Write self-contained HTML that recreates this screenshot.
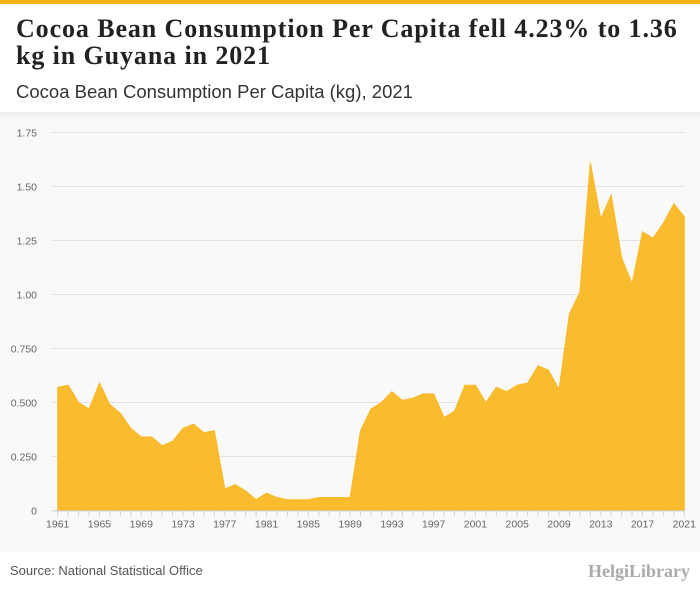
<!DOCTYPE html>
<html><head><meta charset="utf-8"><style>
body{margin:0;width:700px;height:596px;background:#fff;font-family:"Liberation Sans",sans-serif;overflow:hidden;position:relative}
.topbar{position:absolute;left:0;top:0;width:700px;height:4px;background:#f5b21a}
h1{position:absolute;left:16px;top:15px;margin:0;font:bold 26px/27px "Liberation Serif",serif;letter-spacing:0.9px;color:#222;width:690px;white-space:nowrap}
.sub{position:absolute;left:16px;top:81px;font-size:18.5px;color:#333}
.src{position:absolute;left:10px;top:563px;font-size:13px;color:#555}
.logo{position:absolute;right:10px;top:561px;font:bold 18px "Liberation Serif",serif;color:#aaa}
</style></head><body>
<div class="topbar"></div>
<h1>Cocoa Bean Consumption Per Capita fell 4.23% to 1.36<br>kg in Guyana in 2021</h1>
<div class="sub">Cocoa Bean Consumption Per Capita (kg), 2021</div>
<svg id="chart" width="700" height="440" style="position:absolute;left:0;top:112px">
<defs><linearGradient id="bg" x1="0" y1="0" x2="0" y2="1"><stop offset="0" stop-color="#ececec"/><stop offset="0.02" stop-color="#f9f9f9"/></linearGradient></defs>
<rect x="0" y="0" width="700" height="440" fill="url(#bg)"/>
<g id="g"></g>
</svg>
<div class="src">Source: National Statistical Office</div>
<div class="logo">HelgiLibrary</div>
<script>
const years=[];for(let y=1961;y<=2021;y++)years.push(y);
const values=[.57,.58,.50,.47,.59,.49,.45,.38,.34,.34,.30,.32,.38,.40,.36,.37,.10,.12,.09,.05,.08,.06,.05,.05,.05,.06,.06,.06,.06,.37,.47,.50,.55,.51,.52,.54,.54,.43,.46,.58,.58,.50,.57,.55,.58,.59,.67,.65,.56,.91,1.01,1.61,1.35,1.46,1.17,1.05,1.29,1.26,1.33,1.42,1.36];
const yTicks=[0,0.25,0.5,0.75,1,1.25,1.5,1.75];
const yTickLabels=["0","0.250","0.500","0.750","1.00","1.25","1.50","1.75"];
const xLabelYears=[1961,1965,1969,1973,1977,1981,1985,1989,1993,1997,2001,2005,2009,2013,2017,2021];
const NS="http://www.w3.org/2000/svg";const g=document.getElementById('g');
const x=v=>57.7+(v-1961)*(684.3-57.7)/60;
const y=v=>398.5-v*(398.5-20.5)/1.75;
function mk(t,a){const e=document.createElementNS(NS,t);for(const k in a)e.setAttribute(k,a[k]);g.appendChild(e);return e;}
yTicks.forEach((t,i)=>{
 const l=mk('line',{x1:52,x2:684,y1:y(t),y2:y(t),stroke:'#e2e2e2','stroke-width':1});
 
 
 const tx=mk('text',{x:37,y:y(t)+4,'text-anchor':'end','font-size':10.5,fill:'#666','font-family':'Liberation Sans, sans-serif'});
 tx.textContent=yTickLabels[i];
 
 
});
let d='M'+x(years[0])+','+y(0);
years.forEach((yr,i)=>{d+=' L'+x(yr)+','+y(values[i]);});
d+=' L'+x(years[years.length-1])+','+y(0)+' Z';
const area=mk('path',{d:d,fill:'#f9bc2f',stroke:'#f7b928','stroke-width':1});


const ax=mk('line',{x1:52,x2:684,y1:y(0)+.5,y2:y(0)+.5,stroke:'#c8d4e6','stroke-width':1});


years.forEach(yr=>{
 const t=mk('line',{x1:x(yr),x2:x(yr),y1:y(0),y2:y(0)+6,stroke:'#c8d4e6','stroke-width':1});
 
 
});
xLabelYears.forEach(yr=>{
 const tx=mk('text',{x:x(yr),y:y(0)+17,'text-anchor':'middle','font-size':10.5,fill:'#666','font-family':'Liberation Sans, sans-serif'});
 tx.textContent=yr;
 
 
});
</script>
</body></html>
